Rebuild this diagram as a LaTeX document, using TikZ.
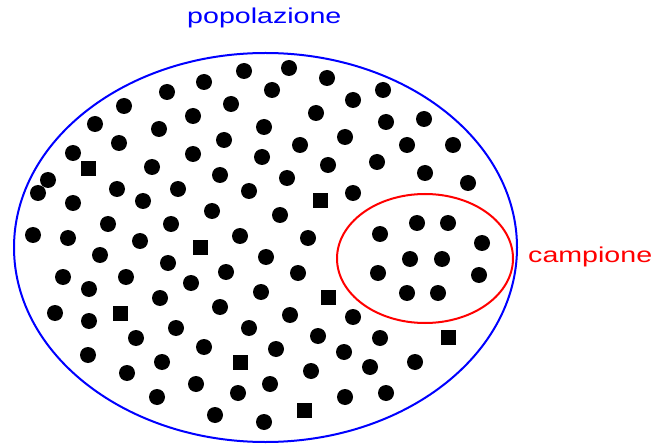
\documentclass[tikz,border=0pt]{standalone}
\usepackage{fontspec}
\newfontfamily\lblfont[FakeStretch=1.33]{Liberation Sans}
\begin{document}
\begin{tikzpicture}[x=1pt,y=-1pt,
  lbl/.style={font=\lblfont\fontsize{21.5}{24}\selectfont,inner sep=0pt,anchor=base west}]
\useasboundingbox (0,0) rectangle (658,446);
% population and sample
\draw[blue,line width=2pt] (265.5,247.5) ellipse[x radius=251.5,y radius=194.5];
\draw[red,line width=2pt] (425,258.5) ellipse[x radius=88,y radius=64.5];
% round units
\foreach \x/\y in {289/68,244/71,327/78,204/82,167/92,272/90,383/90,353/100,231/104,124/106,
  193/116,316/113,386/122,424/119,95/124,159/129,264/127,345/137,224/140,300/145,407/145,
  453/145,119/143,73/153,193/154,262/157,328/165,377/162,152/167,220/175,425/173,287/178,
  468/183,48/180,38/193,117/189,178/189,249/191,353/193,73/203,143/201,212/211,280/215,108/224,
  171/224,33/235,68/238,140/241,240/236,308/238,380/234,417/223,448/223,482/243,
  100/255,168/263,266/257,410/259,442/259,63/277,126/277,191/283,226/272,298/273,378/273,
  479/275,89/289,160/298,261/292,407/293,438/293,55/313,89/321,220/307,290/315,353/317,
  176/328,249/328,318/336,380/338,136/338,204/347,276/349,344/352,88/355,162/362,415/362,
  370/367,311/371,127/373,196/384,270/384,238/393,345/397,386/393,157/397,215/415,264/422}
  \fill (\x,\y) circle[radius=8];
% square units
\foreach \x/\y in {88/169,320/201,200/248,120/313,328/297,448/337,240/362,304/410}
  \fill (\x-7.5,\y-7.5) rectangle (\x+7.5,\y+7.5);
% labels
\node[lbl,text=blue] (poplbl) at (187,24) {popolazione};
\node[lbl,text=red] (camplbl) at (528,262) {campione};
\end{tikzpicture}
\end{document}
